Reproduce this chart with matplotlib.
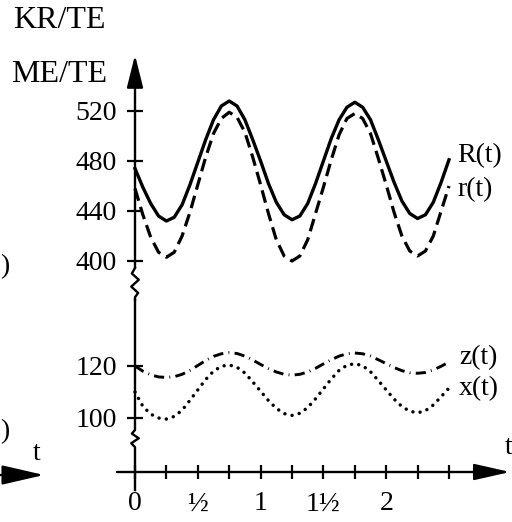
import matplotlib.pyplot as plt

plt.rcParams['font.family'] = ['Liberation Serif', 'DejaVu Serif']

# time grid (every 1/16) and the four curves
t = [i / 16 for i in range(41)]
R = [474, 459, 446, 436, 432, 435, 445, 461, 479, 497, 513, 524, 528, 524, 513, 497,
     480, 462, 447, 437, 433, 436, 446, 462, 480, 498, 513, 523, 527, 523, 513, 497,
     480, 463, 448, 438, 434, 437, 447, 463, 481]
r = [458, 437, 419, 407, 403, 407, 420, 439, 461, 483, 502, 514, 519, 515, 503, 483,
     461, 438, 417, 404, 400, 404, 417, 438, 459, 481, 501, 514, 518, 514, 502, 482,
     461, 439, 420, 408, 404, 408, 420, 440, 460]
z = [120, 118, 116.6, 115.8, 115.6, 115.9, 116.8, 118.3, 120.2, 122.1, 123.7, 124.7,
     125.1, 124.8, 123.8, 122.3, 120.6, 119, 117.7, 116.8, 116.5, 116.8, 117.7, 119.1,
     120.8, 122.4, 123.8, 124.7, 125, 124.7, 123.8, 122.4, 120.9, 119.4, 118.2, 117.4,
     117.2, 117.5, 118.5, 119.9, 121.5]
x = [110, 104.5, 101.5, 100, 99.6, 100.6, 103, 106.8, 110.8, 114.8, 118, 119.9, 120.4,
     119.5, 117.3, 113.9, 110.3, 106.7, 103.7, 101.7, 101, 101.8, 104, 107.4, 111.2,
     115, 118.3, 120.3, 120.9, 120.1, 117.8, 114.4, 110.8, 107.3, 104.4, 102.6, 102,
     102.8, 105, 108.2, 111.5]

upper_ticks = [400, 440, 480, 520]
lower_ticks = [100, 120]
t_major = [0, 0.5, 1, 1.5, 2]
t_labels = ['0', '½', '1', '1½', '2']
t_minor = [0.25, 0.75, 1.25, 1.75, 2.25, 2.5]

W, H = 512, 522
fig = plt.figure(figsize=(W / 100, H / 100), dpi=100)
ax_top = fig.add_axes([0, 1 - 300 / H, 1, 260 / H])
ax_bot = fig.add_axes([0, 1 - 472 / H, 1, 172 / H])

for ax in (ax_top, ax_bot):
    ax.set_xlim(-135 / 125.6, 377 / 125.6)
    ax.patch.set_visible(False)
    for s in ax.spines.values():
        s.set_visible(False)
    ax.spines['left'].set_position(('data', 0))
    ax.tick_params(axis='y', direction='inout', length=12, width=1.6,
                   pad=7, labelsize=20)

ax_top.set_ylim(368.8, 576.8)
ax_bot.set_ylim(79.23, 145.38)
ax_top.set_yticks(upper_ticks)
ax_bot.set_yticks(lower_ticks)
ax_top.tick_params(axis='x', bottom=False, labelbottom=False)
ax_bot.set_xticks(t_major, t_labels)
ax_bot.set_xticks(t_minor, minor=True)
ax_bot.tick_params(axis='x', which='both', direction='inout', length=10,
                   width=1.6, labelsize=20, pad=9)

# curves
ax_top.plot(t, R, color='k', lw=2.4, solid_joinstyle='round')
ax_top.plot(t, r, color='k', lw=2.3, dashes=(4, 2))
ax_bot.plot(t, z, color='k', lw=2.1, dashes=(3.5, 1.8, 0.3, 1.8))
ax_bot.plot(t, x, color='k', lw=2.5, dashes=(0.01, 2.1), dash_capstyle='round')

# vertical axis with arrow and the two breaks
arrow = dict(arrowstyle='-|>,head_length=1.0,head_width=0.25', lw=1.7, color='k',
             mutation_scale=20, shrinkA=0, shrinkB=0)
ax_top.annotate('', xy=(0, 564.8), xytext=(0, 394.4), arrowprops=arrow,
                annotation_clip=False)
ax_top.plot([0, -0.025, 0.03, -0.03, 0.025, 0, 0],
            [394.4, 390, 385, 379.5, 374.5, 371, 368.8],
            color='k', lw=1.7, clip_on=False)
ax_bot.plot([0, 0, -0.025, 0.03, -0.03, 0, 0],
            [145.38, 95.4, 94, 92.2, 90.3, 88.8, 72.3],
            color='k', lw=1.7, clip_on=False)

# horizontal axis with arrow
arrow_x = dict(arrow, arrowstyle='-|>,head_length=1.1,head_width=0.25')
ax_bot.annotate('', xy=(2.986, 79.23), xytext=(-0.143, 79.23), arrowprops=arrow_x,
                annotation_clip=False)

# labels
fs = 20
fig.text(13 / W, 1 - 28 / H, 'KR/TE', fontsize=23, va='baseline')
fig.text(11 / W, 1 - 82 / H, 'ME/TE', fontsize=23, va='baseline')
fig.text(457 / W, 1 - 156 / H, 'R(t)', fontsize=fs, va='center')
fig.text(457 / W, 1 - 190 / H, 'r(t)', fontsize=fs, va='center')
fig.text(459 / W, 1 - 358 / H, 'z(t)', fontsize=fs, va='center')
fig.text(459 / W, 1 - 389 / H, 'x(t)', fontsize=fs, va='center')
fig.text(505 / W, 1 - 448 / H, 't', fontsize=fs, va='center')

# pieces of the neighbouring figure at the left edge
fig.text(0, 1 - 267 / H, ')', fontsize=fs, va='center')
fig.text(0, 1 - 432 / H, ')', fontsize=fs, va='center')
fig.text(33 / W, 1 - 454 / H, 't', fontsize=fs, va='center')
fig.add_artist(plt.matplotlib.patches.FancyArrowPatch(
    (-5, H - 475), (44, H - 475), transform=None,
    arrowstyle='-|>,head_length=1.3,head_width=0.3', lw=1.7, color='k',
    mutation_scale=20, shrinkA=0, shrinkB=0))

fig.savefig('out.png', dpi=100)
